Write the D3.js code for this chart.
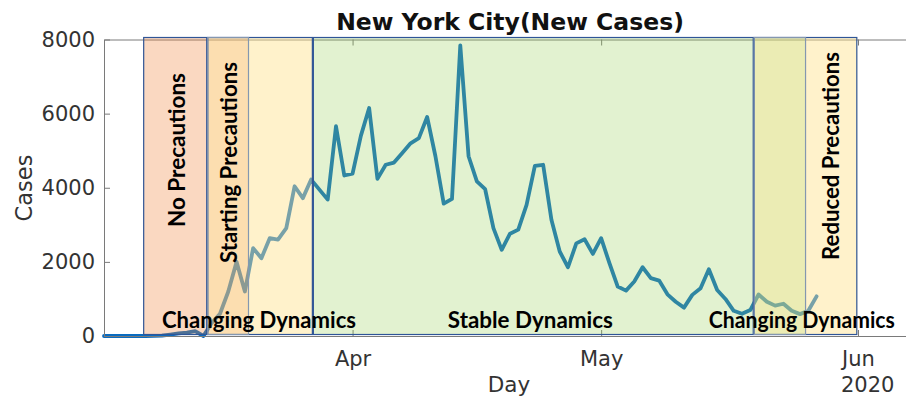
<!DOCTYPE html>
<html><head><meta charset="utf-8">
<script src="https://cdn.jsdelivr.net/npm/d3@7/dist/d3.min.js"></script>
<style>body{margin:0;background:#fff} svg{display:block}</style>
</head><body><svg id="c" width="906" height="400"></svg>
<script>
// ---- data ----
const startDate = "2020-03-02";
const newCases = [
  0,0,0,0,0,0,5,10,40,70,90,130,0,350,600,1200,2000,1200,2370,2100,2640,2600,2910,4040,3720,4220,3950,3680,5660,4330,
  4380,5400,6150,4240,4620,4680,4940,5200,5340,5910,4850,3570,3700,7840,4850,4170,3960,2910,2325,2760,2870,3540,4590,4620,3135,2280,1855,2500,2610,2215,
  2640,1965,1335,1225,1470,1855,1560,1495,1125,925,765,1110,1290,1800,1240,1000,680,600,700,1120,925,820,870,680,590,680,1070
];
const yTicks = [0,2000,4000,6000,8000];
const xTickDates = ["2020-04-01","2020-05-01","2020-06-01"];
const monthLabels = ["Apr","May","Jun"];
const yearLabel = "2020";
const titleText = "New York City(New Cases)";
const xLabel = "Day", yLabel = "Cases";
// phase bands: start, end (dates), fill, opacity, border
const bandStarts = ["2020-03-06T17:30","2020-03-14T11:00","2020-03-27T05:00","2020-05-19T10:00","2020-03-14T11:00","2020-05-19T10:00"];
const bandEnds   = ["2020-03-14T11:00","2020-03-27T05:00","2020-05-19T10:00","2020-05-31T22:00","2020-03-19T12:00","2020-05-25T17:30"];
const bandFills  = ["#ED7D31","#FFE38C","#92D050","#FFE38C","#ED7D31","#92D050"];
const bandAlpha  = [0.3,0.45,0.27,0.45,0.17,0.18];
const bandStroke = ["#2F5597","#2F5597","#2F5597","#2F5597","#8497B0","#8497B0"];
const phaseLabels = ["No Precautions","Starting Precautions","Reduced Precautions"];
const phaseLabelDates = ["2020-03-10T20:00","2020-03-17T01:00","2020-05-28T19:00"];
const phaseLabelLen = [154,201,208];
const dynLabels = ["Changing Dynamics","Stable Dynamics","Changing Dynamics"];
const dynLabelStart = ["2020-03-09T00:00","2020-04-12T12:00","2020-05-14T00:00"];
const dynLabelLen = [194,165,186];

// ---- chart ----
const P = d => new Date(d.length===10 ? d+"T00:00:00Z" : d+":00Z");
const svg = d3.select("#c");
const L = 104, R = 906, T = 39.5, B = 336;
const x0 = d3.scaleUtc().domain([P(startDate), P("2020-06-01")]).range([L, 858]);
const x = d3.scaleUtc().domain([P(startDate), x0.invert(R)]).range([L, R]);
const y = d3.scaleLinear().domain([0, 8000]).range([B, T]);
const data = newCases.map((v,i)=>({d:d3.utcDay.offset(P(startDate), i), v}));

const axisColor = "#7a7a7a", textColor = "#333";
const tickFont = "DejaVu Sans";

// line (drawn under translucent bands)
svg.append("path").datum(data)
  .attr("fill","none").attr("stroke","#0a6cc0").attr("stroke-width",3.8)
  .attr("stroke-linejoin","round").attr("stroke-linecap","round")
  .attr("d", d3.line().x(d=>x(d.d)).y(d=>y(d.v)));

// axes
const gy = svg.append("g").attr("transform",`translate(${L},0)`)
  .call(d3.axisLeft(y).tickValues(yTicks).tickFormat(d3.format("d")).tickSizeInner(-6).tickSizeOuter(0).tickPadding(9));
const gx = svg.append("g").attr("transform",`translate(0,${B})`)
  .call(d3.axisBottom(x).tickValues(xTickDates.map(P)).tickFormat((d,i)=>monthLabels[i])
    .tickSizeInner(-6).tickSizeOuter(0).tickPadding(15));
const gt = svg.append("g").attr("transform",`translate(0,${T})`)
  .call(d3.axisTop(x).tickValues(xTickDates.map(P)).tickFormat("").tickSizeInner(-6).tickSizeOuter(0));
[gy,gx,gt].forEach(g=>{
  g.selectAll("path,line").attr("stroke",axisColor).attr("stroke-width",1);
  g.selectAll("text").attr("fill",textColor).style("font-family",tickFont).style("font-size","21px");
});

// bands
const bandTop = 37, bandBot = 335;
bandStarts.forEach((s,i)=>{
  const x1 = x(P(s)), x2 = x(P(bandEnds[i]));
  svg.append("rect").attr("x",x1).attr("y",bandTop).attr("width",x2-x1).attr("height",bandBot-bandTop)
    .attr("fill",bandFills[i]).attr("fill-opacity",bandAlpha[i]);
});
bandStarts.forEach((s,i)=>{
  const x1 = x(P(s)), x2 = x(P(bandEnds[i]));
  svg.append("rect").attr("x",x1+0.5).attr("y",bandTop+0.5).attr("width",x2-x1-1).attr("height",bandBot-bandTop-1)
    .attr("fill","none").attr("stroke",bandStroke[i]).attr("stroke-width",1.2);
});

// phase labels (rotated)
const labFont = "Lato";
phaseLabels.forEach((t,i)=>{
  svg.append("text").attr("transform",`translate(${x(P(phaseLabelDates[i]))},${[150,162.5,156][i]}) rotate(-90)`)
    .attr("text-anchor","middle").attr("dy","0.35em")
    .style("font-family",labFont).style("font-weight","bold").style("font-size","22.5px").attr("fill","#000")
    .attr("textLength",phaseLabelLen[i]).attr("lengthAdjust","spacingAndGlyphs")
    .text(t);
});
dynLabels.forEach((t,i)=>{
  svg.append("text").attr("x",x(P(dynLabelStart[i]))).attr("y",328)
    .style("font-family",labFont).style("font-weight","bold").style("font-size","22px").attr("fill","#000")
    .attr("textLength",dynLabelLen[i]).attr("lengthAdjust","spacingAndGlyphs")
    .text(t);
});

// titles
svg.append("text").attr("x",510).attr("y",30).attr("text-anchor","middle")
  .style("font-family",tickFont).style("font-weight","bold").style("font-size","23.5px").attr("fill","#111")
  .text(titleText);
svg.append("text").attr("x",509).attr("y",392).attr("text-anchor","middle")
  .style("font-family",tickFont).style("font-size","21.5px").attr("fill",textColor).text(xLabel);
svg.append("text").attr("x",x(P("2020-06-01"))-17).attr("y",392)
  .style("font-family",tickFont).style("font-size","21px").attr("fill",textColor).text(yearLabel);
svg.append("text").attr("transform","translate(32,188) rotate(-90)").attr("text-anchor","middle")
  .style("font-family",tickFont).style("font-size","22.5px").attr("fill",textColor).text(yLabel);
</script></body></html>
